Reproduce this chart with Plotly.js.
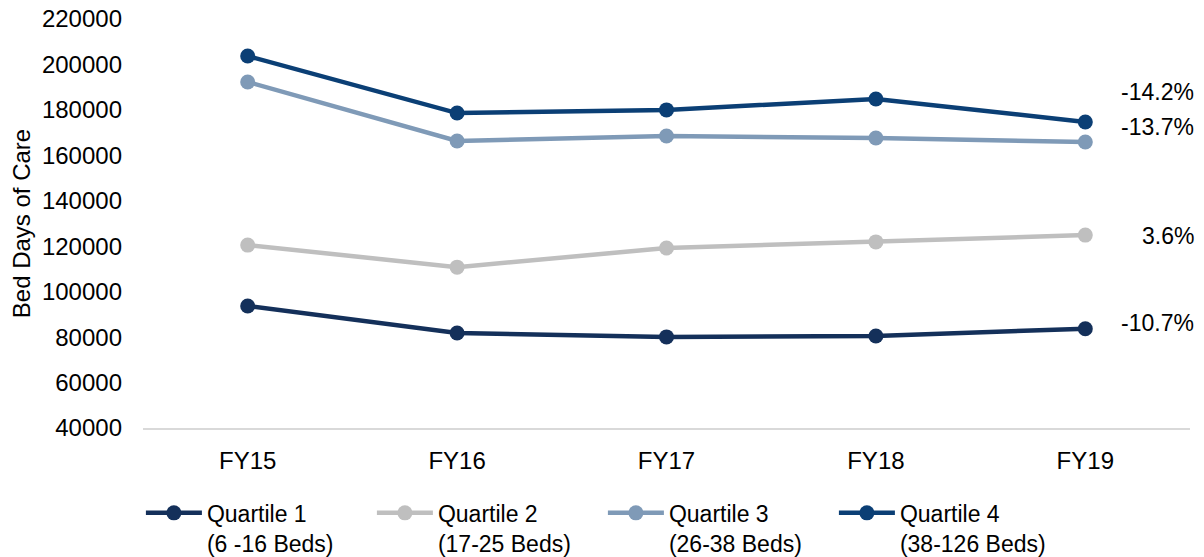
<!DOCTYPE html>
<html>
<head>
<meta charset="utf-8">
<script src="https://cdn.plot.ly/plotly-3.0.1.min.js"></script>
<style>
  html, body { margin: 0; padding: 0; background: #fff; }
  #chart { width: 1204px; height: 557px; }
</style>
</head>
<body>
<div id="chart"></div>
<script>
// Fiscal years on the x axis
const years = ["FY15", "FY16", "FY17", "FY18", "FY19"];

// Bed days of care per facility-size quartile
const quartile1 = [93700, 81800, 80100, 80500, 83700];
const quartile2 = [120500, 110800, 119200, 121900, 124900];
const quartile3 = [192300, 166300, 168500, 167600, 165900];
const quartile4 = [203700, 178600, 180000, 184800, 174700];

// Legend names
const seriesNames = [
  "Quartile 1<br>(6 -16 Beds)",
  "Quartile 2<br>(17-25 Beds)",
  "Quartile 3<br>(26-38 Beds)",
  "Quartile 4<br>(38-126 Beds)"
];

// FY15 to FY19 change labels
const changeLabels = ["-10.7%", "3.6%", "-13.7%", "-14.2%"];

const colors = ["#14305a", "#bfbfbf", "#7f9ab7", "#0b3f75"];
const series = [quartile1, quartile2, quartile3, quartile4];
const labelShift = [6, -1, 15, 30];

const family = "Liberation Sans, Arial, sans-serif";
const tickFont = { family: family, size: 24, color: "#000" };
const textFont = { family: family, size: 23, color: "#000" };

const traces = series.map((vals, i) => ({
  x: years,
  y: vals,
  name: seriesNames[i],
  type: "scatter",
  mode: "lines+markers",
  line: { color: colors[i], width: 4.5 },
  marker: { color: colors[i], size: 15 },
  cliponaxis: false
}));

const annotations = series.map((vals, i) => ({
  xref: "paper",
  yref: "y",
  x: 1.006,
  y: vals[vals.length - 1],
  yshift: labelShift[i],
  xanchor: "right",
  yanchor: "middle",
  text: changeLabels[i],
  showarrow: false,
  font: textFont
}));

const layout = {
  width: 1204,
  height: 557,
  margin: { l: 143, r: 14, t: 19, b: 129, autoexpand: false },
  paper_bgcolor: "#fff",
  plot_bgcolor: "#fff",
  font: textFont,
  showlegend: true,
  xaxis: {
    type: "category",
    range: [-0.5, 4.5],
    showgrid: false,
    zeroline: false,
    showline: true,
    linecolor: "#d9d9d9",
    linewidth: 2,
    ticks: "",
    ticklabelstandoff: 10,
    tickfont: tickFont,
    automargin: false,
    fixedrange: true
  },
  yaxis: {
    range: [40000, 220000],
    dtick: 20000,
    tick0: 40000,
    showgrid: false,
    zeroline: false,
    showline: false,
    ticks: "",
    tickformat: "d",
    ticklabelstandoff: 20,
    tickfont: tickFont,
    title: { text: "Bed Days of Care", font: tickFont, standoff: 4 },
    automargin: false,
    fixedrange: true
  },
  legend: {
    orientation: "h",
    x: -0.002,
    xanchor: "left",
    y: -0.155,
    yanchor: "top",
    valign: "top",
    itemwidth: 56,
    entrywidth: 160,
    tracegroupgap: 0,
    font: textFont,
    bgcolor: "rgba(0,0,0,0)"
  },
  annotations: annotations
};

Plotly.newPlot("chart", traces, layout, { displayModeBar: false, staticPlot: true });
</script>
</body>
</html>
